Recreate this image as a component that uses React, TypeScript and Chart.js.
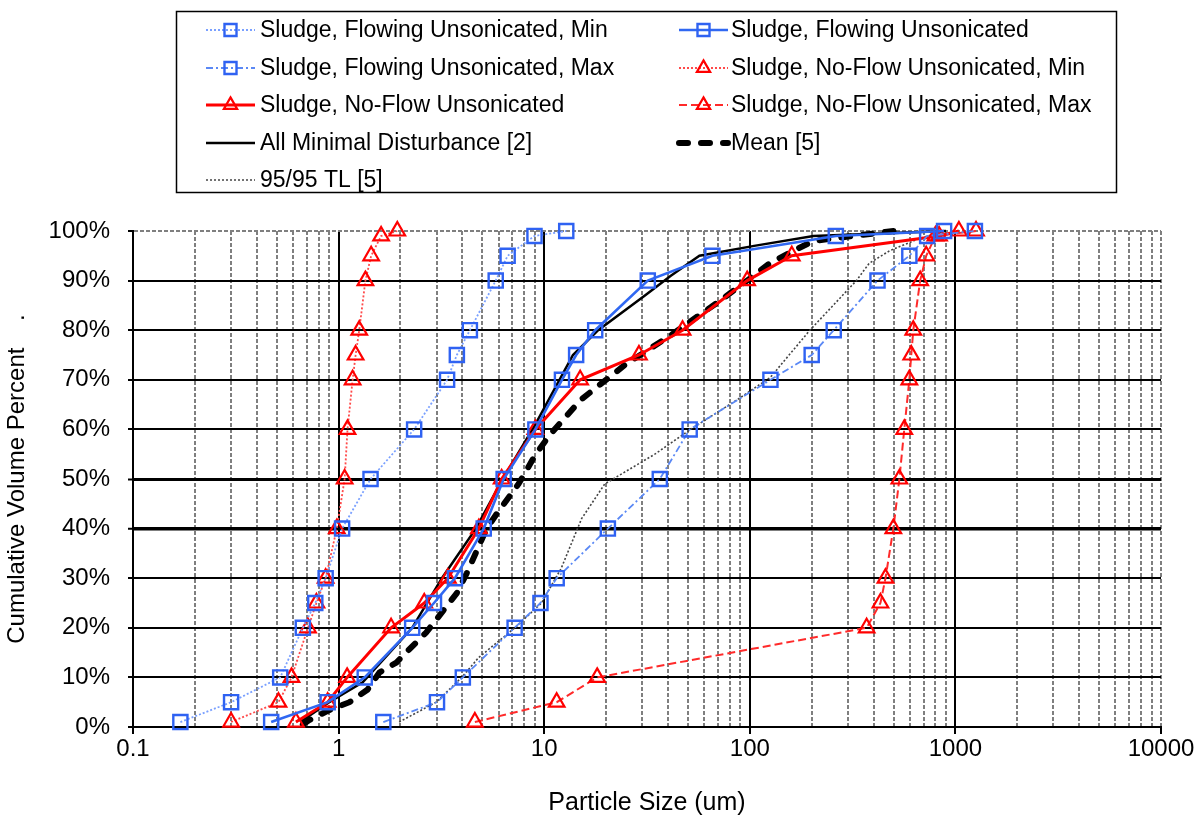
import React, { useEffect, useRef } from 'react';
import { Chart, registerables } from 'chart.js';

Chart.register(...registerables);

const FONT = 'Arial, "Liberation Sans", Helvetica, sans-serif';

// ---- data (particle size in um, cumulative volume percent) ----
const flowMinX = [0.17, 0.30, 0.52, 0.67, 0.77, 0.865, 1.04, 1.43, 2.33, 3.37, 3.76, 4.35, 5.81, 6.64, 8.97, 12.8];
const flowMinY = [1, 5, 10, 20, 25, 30, 40, 50, 60, 70, 75, 80, 90, 95, 99, 100];

const flowX = [0.47, 0.885, 1.34, 2.28, 2.91, 3.68, 5.08, 6.35, 9.06, 12.2, 14.3, 17.7, 31.9, 65.8, 262, 881];
const flowY = [1, 5, 10, 20, 25, 30, 40, 50, 60, 70, 75, 80, 90, 95, 99, 100];

const flowMaxX = [1.65, 3.01, 4.02, 7.18, 9.59, 11.5, 20.4, 36.5, 51, 126, 200, 256, 418, 597, 729, 1244];
const flowMaxY = [1, 5, 10, 20, 25, 30, 40, 50, 60, 70, 75, 80, 90, 95, 99, 100];

const nfMinX = [0.30, 0.51, 0.59, 0.71, 0.78, 0.865, 0.98, 1.07, 1.105, 1.17, 1.21, 1.26, 1.35, 1.44, 1.61, 1.93];
const nfMinY = [1, 5, 10, 20, 25, 30, 40, 50, 60, 70, 75, 80, 90, 95, 99, 100];

const nfX = [0.62, 0.885, 1.1, 1.8, 2.61, 3.4, 4.81, 6.21, 9.06, 14.96, 28.9, 47.1, 97.1, 160, 833, 1040];
const nfY = [1, 5, 10, 20, 25, 30, 40, 50, 60, 70, 75, 80, 90, 95, 99, 100];

const nfMaxX = [4.6, 11.5, 18.1, 370, 432, 457, 499, 534, 564, 597, 610, 624, 674, 721, 800, 1260];
const nfMaxY = [1, 5, 10, 20, 25, 30, 40, 50, 60, 70, 75, 80, 90, 95, 99, 100];

const minDistX = [0.65, 0.9, 1.31, 2.28, 3.18, 4.65, 6.28, 9.06, 13.8, 18.3, 30.9, 41.3, 56.9, 105, 204, 900];
const minDistY = [1, 5, 9, 20, 30, 40, 50, 61, 75, 80, 87, 91, 95, 97, 99, 100];

const meanX = [0.67, 0.72, 0.9, 1.13, 1.38, 1.58, 1.91, 2.25, 2.66, 3.25, 3.76, 4.2, 5.25, 5.88, 7.5, 9.1, 10.7, 15.1, 24.7, 41.3, 71.9, 97, 125, 163, 204, 500];
const meanY = [0.5, 1.4, 3.4, 5, 7.5, 11, 13, 16, 19, 23.6, 27, 31, 40, 43, 49, 55, 59, 66, 73, 79, 86, 90, 93.5, 96, 98, 100];

const tlX = [1.97, 2.98, 3.97, 4.8, 7.2, 9.7, 12.1, 15.2, 19.7, 34.5, 51.5, 87, 126, 196, 330, 381, 478, 667, 900];
const tlY = [1, 5, 10, 14, 20, 25, 32, 42, 49, 55, 60, 66, 70.5, 80, 90, 93.5, 96, 98.5, 100];

const seriesNames = [
  'Sludge, Flowing Unsonicated, Min',
  'Sludge, Flowing Unsonicated',
  'Sludge, Flowing Unsonicated, Max',
  'Sludge, No-Flow Unsonicated, Min',
  'Sludge, No-Flow Unsonicated',
  'Sludge, No-Flow Unsonicated, Max',
  'All Minimal Disturbance [2]',
  'Mean [5]',
  '95/95 TL [5]',
];

const xDecades = [0.1, 1, 10, 100, 1000, 10000];
const xMinorSteps = [2, 3, 4, 5, 6, 7, 8, 9];
const yTickValues = [0, 10, 20, 30, 40, 50, 60, 70, 80, 90, 100];

const xTitle = 'Particle Size (um)';
const yTitle = 'Cumulative Volume Percent    .';

function pts(xs: number[], ys: number[]) {
  return xs.map((x, i) => ({ x, y: ys[i] }));
}

function isDecade(v: number) {
  const l = Math.log10(v);
  return Math.abs(l - Math.round(l)) < 1e-9;
}

function allXTicks() {
  const out: number[] = [];
  xDecades.forEach((d, i) => {
    out.push(d);
    if (i < xDecades.length - 1) xMinorSteps.forEach((m) => out.push(Number((d * m).toPrecision(6))));
  });
  return out;
}

function drawMarker(ctx: CanvasRenderingContext2D, style: string, x: number, y: number, r: number, color: string, w: number) {
  ctx.save();
  ctx.strokeStyle = color;
  ctx.lineWidth = w;
  ctx.setLineDash([]);
  ctx.beginPath();
  if (style === 'rect') {
    const h = r * Math.SQRT1_2;
    ctx.rect(x - h, y - h, 2 * h, 2 * h);
  } else {
    const s = r * Math.sin(Math.PI / 3);
    ctx.moveTo(x, y - r);
    ctx.lineTo(x + s, y + r / 2);
    ctx.lineTo(x - s, y + r / 2);
    ctx.closePath();
  }
  ctx.stroke();
  ctx.restore();
}

const boxLegend = {
  id: 'boxLegend',
  afterDraw(chart: any) {
    const ctx: CanvasRenderingContext2D = chart.ctx;
    ctx.save();
    ctx.strokeStyle = '#000';
    ctx.lineWidth = 1.5;
    ctx.setLineDash([]);
    ctx.strokeRect(176.5, 11.5, 940, 181);
    const colX = [206, 679];
    const textX = [260, 731];
    const rowY = [30, 68, 105, 143, 180];
    const lineW = 49;
    chart.data.datasets.forEach((ds: any, i: number) => {
      const c = i % 2;
      const r = Math.floor(i / 2);
      const y = rowY[r];
      const x0 = colX[c];
      const x1 = x0 + lineW;
      ctx.save();
      ctx.strokeStyle = ds.borderColor;
      ctx.lineWidth = ds.borderWidth;
      ctx.setLineDash(ds.borderDash || []);
      ctx.lineCap = ds.borderCapStyle || 'butt';
      ctx.beginPath();
      ctx.moveTo(x0, y);
      ctx.lineTo(x1, y);
      ctx.stroke();
      ctx.restore();
      if (ds.pointRadius > 0) {
        drawMarker(ctx, ds.pointStyle, (x0 + x1) / 2, y, ds.pointRadius * 0.85, ds.pointBorderColor, ds.pointBorderWidth);
      }
      ctx.fillStyle = '#000';
      ctx.font = `23px ${FONT}`;
      ctx.textBaseline = 'middle';
      ctx.textAlign = 'left';
      ctx.fillText(ds.label, textX[c], y + 1);
    });
    ctx.restore();
  },
};

const BLUE_MARK = '#2f62f2';
const RED_MARK = '#ff0000';

export default function App() {
  const canvasRef = useRef<HTMLCanvasElement | null>(null);

  useEffect(() => {
    document.body.style.margin = '0';
    const canvas = canvasRef.current;
    if (!canvas) return;

    const common = { tension: 0, pointBackgroundColor: 'rgba(0,0,0,0)', clip: false as any, fill: false };
    const sq = { pointStyle: 'rect', pointRadius: 10, pointBorderColor: BLUE_MARK, pointBorderWidth: 2.4 };
    const tri = { pointStyle: 'triangle', pointRadius: 9, pointBorderColor: RED_MARK, pointBorderWidth: 2.2 };

    const datasets: any[] = [
      { label: seriesNames[0], data: pts(flowMinX, flowMinY), borderColor: '#7aa0ff', borderWidth: 1.8, borderDash: [2, 2], ...sq, ...common },
      { label: seriesNames[1], data: pts(flowX, flowY), borderColor: '#3068f2', borderWidth: 2.6, borderDash: [], ...sq, ...common },
      { label: seriesNames[2], data: pts(flowMaxX, flowMaxY), borderColor: '#5a88f5', borderWidth: 1.8, borderDash: [7, 3, 2, 3], ...sq, ...common },
      { label: seriesNames[3], data: pts(nfMinX, nfMinY), borderColor: '#ff4a4a', borderWidth: 1.8, borderDash: [2, 2], ...tri, ...common },
      { label: seriesNames[4], data: pts(nfX, nfY), borderColor: '#ff0000', borderWidth: 3, borderDash: [], ...tri, ...common },
      { label: seriesNames[5], data: pts(nfMaxX, nfMaxY), borderColor: '#ff2a2a', borderWidth: 2, borderDash: [8, 4], ...tri, ...common },
      { label: seriesNames[6], data: pts(minDistX, minDistY), borderColor: '#000000', borderWidth: 2.5, borderDash: [], pointRadius: 0, ...common },
      { label: seriesNames[7], data: pts(meanX, meanY), borderColor: '#000000', borderWidth: 6, borderDash: [9, 13], borderCapStyle: 'round', pointRadius: 0, ...common },
      { label: seriesNames[8], data: pts(tlX, tlY), borderColor: '#444444', borderWidth: 1.6, borderDash: [2, 2], pointRadius: 0, ...common },
    ];

    const xTicks = allXTicks();
    const isMajorX = (v: number) => isDecade(v) && v < 10000;

    const chart = new Chart(canvas, {
      type: 'line',
      data: { datasets },
      plugins: [boxLegend],
      options: {
        animation: false,
        responsive: true,
        maintainAspectRatio: false,
        events: [],
        layout: { padding: { top: 231, right: 38, left: 0, bottom: 0 } },
        plugins: {
          legend: { display: false },
          tooltip: { enabled: false },
        },
        scales: {
          x: {
            type: 'logarithmic',
            min: 0.1,
            max: 10000,
            afterBuildTicks: (scale: any) => {
              scale.ticks = xTicks.map((v) => ({ value: v }));
            },
            afterFit: (scale: any) => {
              scale.height = 91;
            },
            ticks: {
              autoSkip: false,
              maxRotation: 0,
              minRotation: 0,
              padding: 1,
              color: '#000',
              font: { family: FONT, size: 24 },
              callback: (v: any) => (isDecade(Number(v)) ? String(Number(v)) : ''),
            },
            grid: {
              color: (c: any) => (c.tick && isMajorX(c.tick.value) ? '#000000' : '#7f7f7f'),
              lineWidth: 2,
              tickLength: 7,
              tickWidth: 2,
              tickColor: (c: any) => (c.tick && isDecade(c.tick.value) ? '#000000' : 'rgba(0,0,0,0)'),
            },
            border: {
              display: true,
              color: '#000',
              width: 2,
              dash: (c: any) => (c.tick && !isMajorX(c.tick.value) ? [4, 2] : []),
            },
            title: {
              display: true,
              text: xTitle,
              color: '#000',
              font: { family: FONT, size: 25 },
              padding: { top: 0, bottom: 0 },
            },
          },
          y: {
            type: 'linear',
            min: 0,
            max: 100,
            afterBuildTicks: (scale: any) => {
              scale.ticks = yTickValues.map((v) => ({ value: v }));
            },
            afterFit: (scale: any) => {
              scale.width = 133;
            },
            ticks: {
              padding: 18,
              color: '#000',
              font: { family: FONT, size: 24 },
              callback: (v: any) => `${v}%`,
            },
            grid: {
              color: (c: any) => (c.tick && c.tick.value === 100 ? '#7f7f7f' : '#000000'),
              lineWidth: (c: any) => (c.tick && c.tick.value === 40 ? 3.5 : c.tick && c.tick.value === 50 ? 3 : 2),
              tickLength: 5,
              tickWidth: 2,
              tickColor: '#000',
            },
            border: {
              display: true,
              color: '#000',
              width: 2,
              dash: (c: any) => (c.tick && c.tick.value === 100 ? [4, 2] : []),
            },
            title: {
              display: true,
              text: yTitle,
              color: '#000',
              font: { family: FONT, size: 24 },
              padding: { top: 3, bottom: 0 },
            },
          },
        },
      } as any,
    });

    return () => {
      chart.destroy();
    };
  }, []);

  return (
    <div style={{ position: 'fixed', left: 0, top: 0, width: 1199, height: 818, background: '#fff' }}>
      <canvas ref={canvasRef} />
    </div>
  );
}
